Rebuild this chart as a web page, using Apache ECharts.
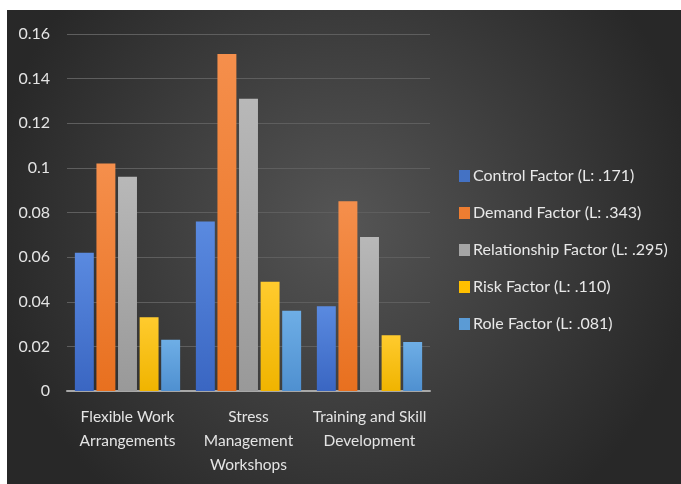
<!DOCTYPE html>
<html><head><meta charset="utf-8">
<script src="https://cdn.jsdelivr.net/npm/echarts@6/dist/echarts.min.js"></script>
<style>
html,body{margin:0;padding:0;background:#fff;width:681px;height:484px;overflow:hidden}
#c{position:absolute;left:7px;top:10px;width:674px;height:474px}
</style></head><body>
<div id="c"></div>
<script>
const categories = ["Flexible Work\nArrangements", "Stress\nManagement\nWorkshops", "Training and Skill\nDevelopment"];
const seriesNames = ["Control Factor (L: .171)", "Demand Factor (L: .343)", "Relationship Factor (L: .295)", "Risk Factor (L: .110)", "Role Factor (L: .081)"];
const controlVals = [0.062, 0.076, 0.038];
const demandVals = [0.102, 0.151, 0.085];
const relationshipVals = [0.096, 0.131, 0.069];
const riskVals = [0.033, 0.049, 0.025];
const roleVals = [0.023, 0.036, 0.022];
const yTicks = [0, 0.02, 0.04, 0.06, 0.08, 0.1, 0.12, 0.14, 0.16];

const allVals = [controlVals, demandVals, relationshipVals, riskVals, roleVals];
const topCols = ['#5a8ae0', '#f58f4c', '#b8b8b8', '#ffcb2e', '#6eaee6'];
const botCols = ['#3a66c2', '#e8701f', '#999999', '#f0b400', '#4f90d0'];
const legendCols = ['#4472c4', '#ed7d31', '#a5a5a5', '#ffc000', '#5b9bd5'];
const font = 'Lato';

const chart = echarts.init(document.getElementById('c'), null, {renderer: 'canvas'});
chart.setOption({
  backgroundColor: {
    type: 'radial', x: 0.5, y: 0.45, r: 0.75,
    colorStops: [{offset: 0, color: '#555555'}, {offset: 1, color: '#282828'}]
  },
  textStyle: {fontFamily: font},
  grid: {left: 60, right: 251, top: 24, bottom: 93},
  legend: {
    orient: 'vertical', left: 447, top: 153,
    itemWidth: 11, itemHeight: 12, itemGap: 21,
    icon: 'rect',
    textStyle: {color: '#e8e8e8', fontSize: 16, fontFamily: font, padding: [0, 0, 0, -2]},
    data: seriesNames.map((n, i) => ({name: n, itemStyle: {color: legendCols[i]}}))
  },
  xAxis: {
    type: 'category', data: categories,
    axisLine: {show: true, lineStyle: {color: '#a8a8a8', width: 2}},
    axisTick: {show: false},
    axisLabel: {color: '#e4e4e4', fontSize: 15.5, lineHeight: 24, margin: 14, interval: 0}
  },
  yAxis: {
    type: 'value', min: 0, max: 0.16, interval: 0.02,
    axisLine: {show: false}, axisTick: {show: false},
    splitLine: {lineStyle: {color: '#5e5e5e', width: 1}},
    axisLabel: {color: '#e4e4e4', fontSize: 16, margin: 17,
      formatter: v => { const t = yTicks.find(x => Math.abs(x - v) < 1e-9); return String(t === undefined ? v : t); }}
  },
  series: seriesNames.map((n, i) => ({
    name: n, type: 'bar', data: allVals[i],
    barGap: '14%', barCategoryGap: '13%',
    itemStyle: {
      color: {type: 'linear', x: 0, y: 0, x2: 0, y2: 1,
        colorStops: [{offset: 0, color: topCols[i]}, {offset: 1, color: botCols[i]}]},
      shadowColor: 'rgba(0,0,0,0.45)', shadowBlur: 4, shadowOffsetX: 1, shadowOffsetY: 1
    }
  }))
});
</script>
</body></html>
